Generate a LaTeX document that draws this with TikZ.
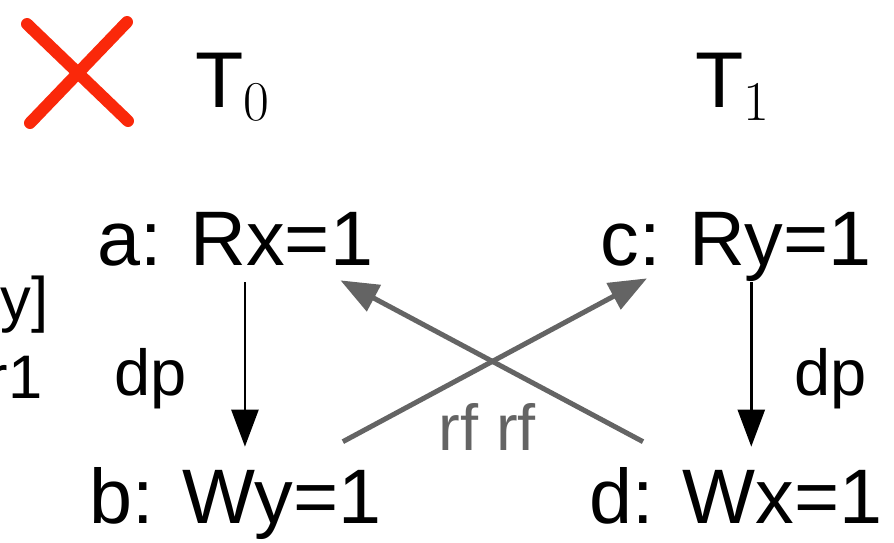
\documentclass[tikz,border=0pt]{standalone}
\usepackage{fontspec}
\setmainfont{Liberation Sans}
\newfontfamily\lmfont{Latin Modern Roman}
\usetikzlibrary{arrows.meta}
\definecolor{crossred}{RGB}{250,40,10}
\definecolor{rfgray}{RGB}{100,100,100}
\newcommand{\thrsub}[1]{\raisebox{-0.26cm}{\fontsize{32}{34}\lmfont #1}}

\begin{document}
\begin{tikzpicture}[x=0.02cm, y=-0.02cm,
  op/.style={inner sep=0pt, anchor=base west, text height=1.17cm, text depth=0.34cm, font=\fontsize{44}{48}\selectfont},
  thr/.style={inner sep=0pt, anchor=base west, font=\fontsize{45}{50}\selectfont},
  lbl/.style={inner sep=0pt, anchor=base west, font=\fontsize{37}{40}\selectfont},
  edge/.style={inner sep=0pt, anchor=base east, font=\fontsize{35}{40}\selectfont},
  dparr/.style={-{Triangle[length=0.74cm, width=0.54cm]}, line width=0.05cm, shorten >=0.35cm},
  rfarr/.style={-{Triangle[length=0.76cm, width=0.58cm]}, line width=0.1cm, rfgray}]
\useasboundingbox (0,0) rectangle (894,542);
\clip (0,0) rectangle (894,542);
\draw[crossred, line width=0.24cm, line cap=round] (27,24) -- (128,121) (127,22) -- (30,123);
\node[thr] (t0) at (195,107) {T\thrsub{0}};
\node[thr] (t1) at (695,107) {T\thrsub{1}};
\node[edge] (ly) at (49,320) {[y]};
\node[edge] (lr) at (43,398) {r1};
\node[op] (a) at (97,265) {a: Rx=1};
\node[op] (b) at (89,523) {b: Wy=1};
\node[op] (c) at (600,265) {c: Ry=1};
\node[op] (d) at (589,523) {d: Wx=1};
\node[lbl] (dpl) at (114,395) {dp};
\node[lbl] (dpr) at (794,395) {dp};
\node[lbl, text=rfgray] (rf) at (438,450) {rf rf};
\coordinate (bin) at ([xshift=0.19cm]b.north);
\coordinate (din) at ([xshift=0.31cm]d.north);
\draw[dparr] (a.south -| bin) -- (bin);
\draw[dparr] (c.south -| din) -- (din);
\draw[rfarr] ([shift={(-39,-22.5)}]b.north east) -- ([shift={(47,-4)}]c.south west);
\draw[rfarr] ([shift={(54,-22.5)}]d.north west) -- ([shift={(-33,-2)}]a.south east);
\end{tikzpicture}
\end{document}
